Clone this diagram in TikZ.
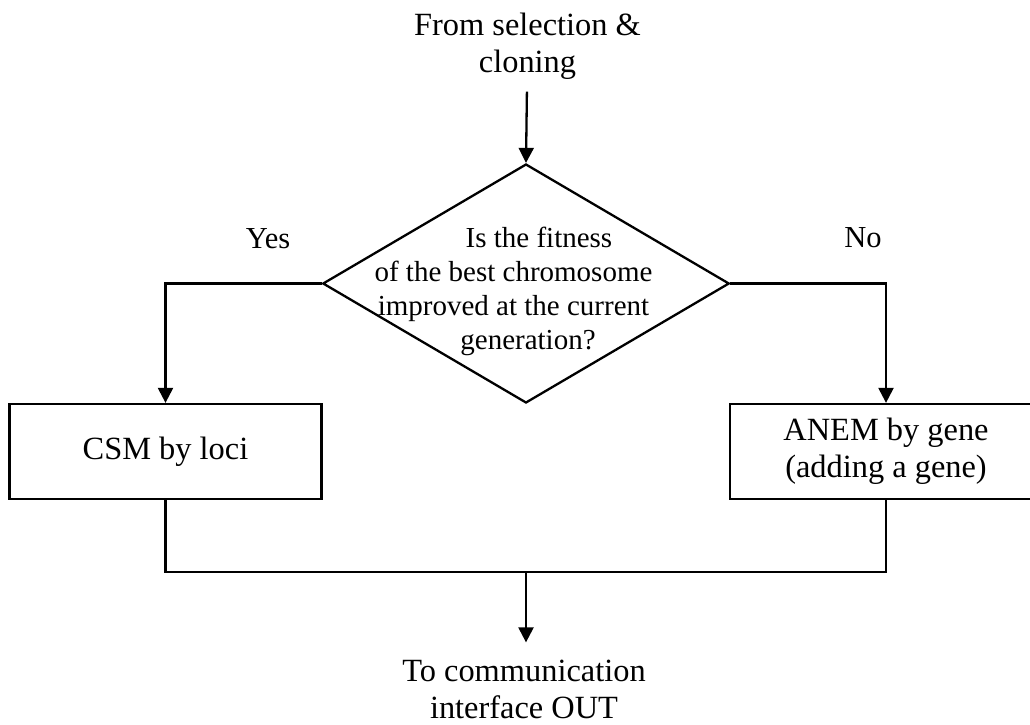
\documentclass[tikz,border=0pt]{standalone}
\usepackage{fontspec}
\setmainfont{Liberation Serif}
\usetikzlibrary{shapes.geometric,arrows.meta}
\begin{document}
\begin{tikzpicture}[x=1pt,y=-1pt,
  every node/.style={font=\fontsize{32.4}{37}\selectfont, inner sep=0pt},
  line/.style={line width=2.3pt, line join=miter},
  arr/.style={line, -{Triangle[length=15pt,width=15pt]}},
  procbox/.style={draw, line width=2.3pt, minimum width=312pt, minimum height=95pt, align=center},
  decision/.style={draw, line width=2.3pt, diamond, minimum width=406.5pt, minimum height=239pt},
  smalltext/.style={font=\fontsize{29}{34}\selectfont}]
\useasboundingbox (0,0) rectangle (1030,724);
\clip (0,0) rectangle (1030,724);
\node[align=center, anchor=base] (from) at (527.5,72.5) {From selection \&\\cloning};
\node[decision] (dec) at (526,283.5) {};
\node[smalltext, align=center, anchor=base] (q) at (513.5,349) {\hspace*{51pt}Is the fitness\\of the best chromosome\\improved at the current\\\hspace*{29pt}generation?};
\node[anchor=base, font=\fontsize{30.5}{35}\selectfont] (yes) at (268,248) {Yes};
\node[anchor=base, font=\fontsize{30.5}{35}\selectfont] (no) at (863,247) {No};
\node[procbox] (csm) at (165.5,451.5) {CSM by loci};
\node[procbox] (anem) at (886,451.5) {ANEM by gene\\(adding a gene)};
\coordinate (j) at (526,572);
\node[align=center, anchor=base] (to) at (524,718) {To communication\\interface OUT};
\draw[arr, shorten <=12pt] (from) -- (dec.north);
\draw[arr] (dec.west) -| (csm.north);
\draw[arr] (dec.east) -| (anem.north);
\draw[line] (csm.south) |- (j) -| (anem.south);
\draw[arr, shorten >=17pt] (j) -- (to.north -| j);
\end{tikzpicture}
\end{document}
